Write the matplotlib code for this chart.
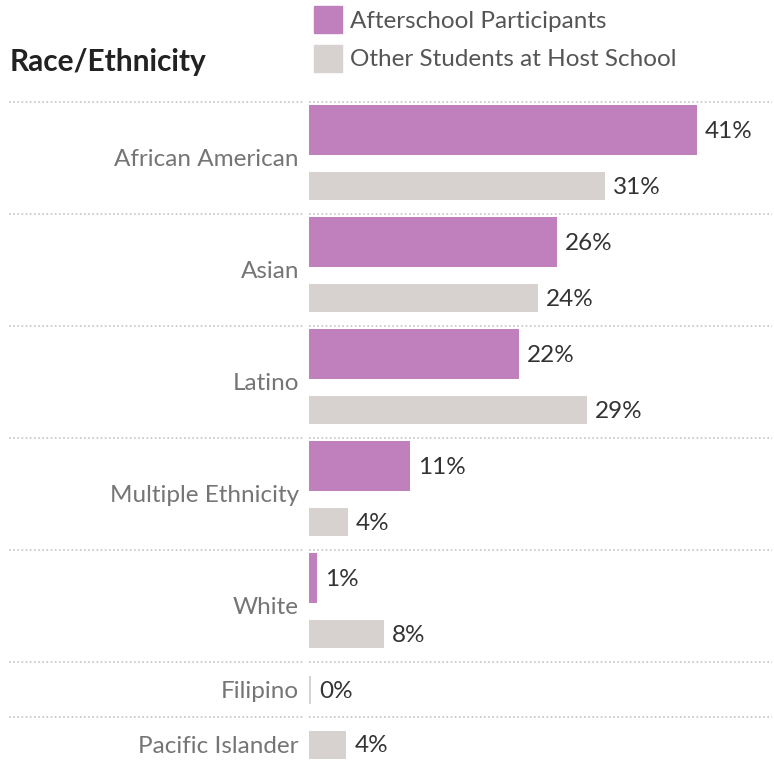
import matplotlib.pyplot as plt
import matplotlib.patches as mpatches

plt.rcParams['font.family'] = ['Lato', 'DejaVu Sans']

# data
categories = ["African American", "Asian", "Latino", "Multiple Ethnicity",
              "White", "Filipino", "Pacific Islander"]
afterschool = [40.6, 26.0, 22.0, 10.6, 0.84, None, None]
other_students = [31.0, 24.0, 29.1, 4.1, 7.85, 0.2, 3.9]
series_names = ["Afterschool Participants", "Other Students at Host School"]

purple = "#bf80bd"
gray = "#d7d2d0"
label_gray = "#757575"
text_dark = "#333333"
line_col = "#c4c4c4"

W, H = 774, 769
fig = plt.figure(figsize=(W / 100, H / 100), dpi=100)

# axes placed in pixel terms: x 309..772, y 102..769
ax = fig.add_axes([309 / W, 0, (772 - 309) / W, 1 - 102 / H])
ax.set_xlim(0, 463 / 9.55)
ax.set_ylim(667, 0)  # y in pixels, downward
ax.axis("off")

fs = 17.5
y_top = 0
tall_h, thin_h = 50, 28
for cat, a, o in zip(categories, afterschool, other_students):
    row_h = 112 if a is not None else 55
    # dotted separator above each row, split in two like Tableau
    ax.plot([0, 1], [y_top, y_top], transform=ax.get_yaxis_transform(),
            color=line_col, lw=1.2, ls=(0, (1, 1.5)), clip_on=False)
    ax.plot([-300 / 463, -6 / 463], [y_top, y_top], transform=ax.get_yaxis_transform(),
            color=line_col, lw=1.2, ls=(0, (1, 1.5)), clip_on=False)
    if a is not None:
        yc_a = y_top + 28
        yc_o = y_top + 84
        ax.barh(yc_a, a, height=tall_h, color=purple, left=0)
        ax.text(a + 8 / 9.55, yc_a + 1.5, f"{a:.0f}%", va="center", ha="left",
                fontsize=fs, color=text_dark)
    else:
        yc_o = y_top + 27.5
    ax.barh(yc_o, o, height=thin_h, color=gray, left=0)
    ax.text(o + 8 / 9.55, yc_o + 1.5, f"{o:.0f}%", va="center", ha="left",
            fontsize=fs, color=text_dark)
    # row label
    ax.text(-10 / 9.55, y_top + row_h / 2 + 2, cat, ha="right", va="center",
            fontsize=fs, color=label_gray, clip_on=False)
    y_top += row_h

# title
fig.text(10 / W, 1 - 62 / H, "Race/Ethnicity", fontsize=21.5, fontweight="bold",
         color="#222222", ha="left", va="center")

# legend
for i, (name, col) in enumerate(zip(series_names, [purple, gray])):
    yc = 20 + i * 39
    fig.patches.append(mpatches.Rectangle((314 / W, 1 - (yc + 13) / H), 28 / W, 27 / H,
                                          transform=fig.transFigure, color=col))
    fig.text(350 / W, 1 - (yc + 1) / H, name, fontsize=fs, color="#555555",
             ha="left", va="center")

fig.savefig("out.png", dpi=100)
